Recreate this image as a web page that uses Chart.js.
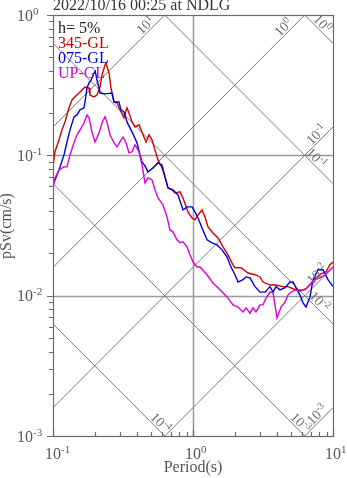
<!DOCTYPE html>
<html>
<head>
<meta charset="utf-8">
<script src="https://cdn.jsdelivr.net/npm/chart.js@4/dist/chart.umd.min.js"></script>
<style>
  body { margin: 0; background: #fff; }
  canvas { display: block; }
</style>
</head>
<body>
<canvas id="spec" width="347" height="478"></canvas>
<script>
// pseudo velocity response spectra, h = 5%
const period345 = [0.1, 0.1033, 0.1104, 0.116, 0.1218, 0.1301, 0.1367, 0.1436, 0.156, 0.1693, 0.1808, 0.1837, 0.1963, 0.2062, 0.2167, 0.2239, 0.2352, 0.2391, 0.2512, 0.2596, 0.2727, 0.2865, 0.301, 0.3215, 0.3377, 0.349, 0.3667, 0.3852, 0.4115, 0.4394, 0.4616, 0.485, 0.5095, 0.5353, 0.5623, 0.6006, 0.631, 0.6628, 0.7079, 0.7434, 0.8075, 0.8483, 0.921, 0.9837, 1.033, 1.086, 1.16, 1.218, 1.28, 1.389, 1.509, 1.638, 1.778, 1.931, 1.995, 2.203, 2.471, 2.773, 3.01, 3.162, 3.548, 3.917, 4.396, 4.771, 5.179, 5.812, 6.415, 6.985, 7.559, 8.209, 8.913, 9.517, 10];
const sv345 = [0.0841, 0.106, 0.129, 0.152, 0.173, 0.218, 0.248, 0.261, 0.283, 0.307, 0.302, 0.269, 0.261, 0.269, 0.307, 0.374, 0.440, 0.455, 0.386, 0.302, 0.240, 0.236, 0.211, 0.185, 0.218, 0.200, 0.173, 0.159, 0.165, 0.140, 0.1245, 0.140, 0.129, 0.109, 0.0928, 0.0813, 0.0702, 0.0586, 0.0568, 0.0540, 0.0549, 0.0497, 0.0395, 0.0358, 0.0347, 0.0376, 0.0408, 0.0364, 0.0309, 0.0280, 0.0258, 0.0223, 0.0195, 0.0166, 0.0158, 0.0158, 0.0145, 0.0141, 0.0136, 0.0125, 0.0119, 0.0119, 0.0116, 0.0116, 0.0112, 0.0108, 0.0112, 0.0123, 0.0134, 0.0143, 0.0148, 0.0166, 0.0174];

const period075 = [0.1, 0.1104, 0.1198, 0.1259, 0.1323, 0.1413, 0.1484, 0.156, 0.1664, 0.1693, 0.1749, 0.1808, 0.1868, 0.1963, 0.1995, 0.2062, 0.2131, 0.2167, 0.2352, 0.2638, 0.2727, 0.2961, 0.306, 0.3215, 0.3377, 0.3667, 0.3981, 0.4182, 0.4322, 0.4541, 0.4771, 0.5179, 0.5623, 0.6006, 0.631, 0.6628, 0.7196, 0.7815, 0.8483, 0.906, 0.9837, 1.033, 1.086, 1.16, 1.259, 1.367, 1.484, 1.612, 1.749, 1.868, 1.995, 2.096, 2.276, 2.391, 2.553, 2.773, 3.01, 3.268, 3.548, 3.728, 3.917, 4.182, 4.541, 4.931, 5.179, 5.441, 5.812, 6.106, 6.415, 6.849, 7.196, 7.815, 8.483, 9.21, 10];
const sv075 = [0.0615, 0.0787, 0.1007, 0.1245, 0.152, 0.188, 0.194, 0.211, 0.218, 0.240, 0.302, 0.328, 0.344, 0.386, 0.406, 0.344, 0.302, 0.278, 0.274, 0.278, 0.240, 0.240, 0.211, 0.204, 0.173, 0.147, 0.123, 0.1007, 0.0898, 0.0841, 0.0762, 0.0813, 0.0883, 0.0854, 0.0702, 0.0586, 0.0568, 0.0522, 0.0408, 0.0429, 0.0429, 0.0395, 0.0358, 0.0304, 0.0250, 0.0238, 0.0230, 0.0212, 0.0189, 0.0160, 0.0141, 0.0125, 0.0130, 0.0136, 0.0134, 0.0116, 0.0106, 0.0106, 0.0116, 0.0106, 0.0116, 0.0110, 0.0114, 0.0125, 0.0125, 0.0114, 0.0101, 0.00889, 0.0083, 0.0098, 0.0130, 0.0153, 0.0153, 0.0130, 0.0116];

const periodUP = [0.1, 0.1033, 0.1104, 0.1198, 0.1259, 0.1323, 0.1413, 0.1484, 0.156, 0.1664, 0.1749, 0.1808, 0.1899, 0.1995, 0.2131, 0.2239, 0.2352, 0.243, 0.2553, 0.2727, 0.2865, 0.301, 0.3162, 0.3323, 0.349, 0.3667, 0.3852, 0.4115, 0.4322, 0.4541, 0.4771, 0.5095, 0.5353, 0.5623, 0.6106, 0.6522, 0.6849, 0.7196, 0.7688, 0.8075, 0.8483, 0.906, 0.9519, 1.0, 1.068, 1.122, 1.259, 1.389, 1.56, 1.749, 1.931, 2.096, 2.276, 2.391, 2.553, 2.683, 2.818, 3.01, 3.162, 3.323, 3.548, 3.728, 3.852, 3.981, 4.182, 4.251, 4.541, 4.771, 5.012, 5.441, 5.812, 6.31, 6.849, 7.436, 8.075, 8.77, 9.21, 10];
const svUP = [0.0577, 0.0691, 0.0787, 0.0827, 0.0827, 0.1007, 0.123, 0.140, 0.152, 0.170, 0.194, 0.185, 0.147, 0.1245, 0.144, 0.170, 0.188, 0.173, 0.140, 0.123, 0.115, 0.1245, 0.135, 0.123, 0.104, 0.106, 0.119, 0.106, 0.0854, 0.0636, 0.0691, 0.0668, 0.0568, 0.0497, 0.0443, 0.0364, 0.0294, 0.0285, 0.0250, 0.0238, 0.0242, 0.0223, 0.0195, 0.0174, 0.0160, 0.0160, 0.0141, 0.0123, 0.0110, 0.0098, 0.0086, 0.0083, 0.00766, 0.00819, 0.0075, 0.00819, 0.00766, 0.0086, 0.0086, 0.0096, 0.0106, 0.0105, 0.0086, 0.00695, 0.0079, 0.0083, 0.0090, 0.0101, 0.0106, 0.0110, 0.0110, 0.0110, 0.0119, 0.0130, 0.0134, 0.0141, 0.0148, 0.0160];

const seriesNames = ['345-GL', '075-GL', 'UP-GL'];
const seriesColors = ['#d40000', '#0000d4', '#d800d8'];

// tripartite guide lines: acceleration (cm/s2) and displacement (cm)
const accLevels = [10, 1, 0.1, 0.01, 0.001];
const dispLevels = [1, 0.1, 0.01, 0.001, 0.0001];
// where each guide label sits, given as a period on its line
const accLabels = [['1', 0.493], ['0', 4.77], ['-1', 8.2], ['-2', 8.3], ['-3', 8.3]];
const dispLabels = [['0', 7.8], ['-1', 7.08], ['-2', 7.44], ['-3', 5.44], ['-4', 0.544]];

const xTicks = [[0.1, '-1'], [1, '0'], [10, '1']];
const yTicks = [[1, '0'], [0.1, '-1'], [0.01, '-2'], [0.001, '-3']];

const TWO_PI = 2 * Math.PI;
const svFromAcc = (a, t) => a * t / TWO_PI;
const svFromDisp = (d, t) => TWO_PI * d / t;

const SERIF = '"Liberation Serif", "Times New Roman", serif';

function pts(xs, ys) {
  return xs.map((x, i) => ({ x: x, y: ys[i] }));
}

const datasets = [];
accLevels.forEach(a => {
  datasets.push({
    data: [{ x: 0.1, y: svFromAcc(a, 0.1) }, { x: 10, y: svFromAcc(a, 10) }],
    borderColor: '#7a7a7a', borderWidth: 1, order: 10
  });
});
dispLevels.forEach(d => {
  datasets.push({
    data: [{ x: 0.1, y: svFromDisp(d, 0.1) }, { x: 10, y: svFromDisp(d, 10) }],
    borderColor: '#7a7a7a', borderWidth: 1, order: 10
  });
});
[[period345, sv345], [period075, sv075], [periodUP, svUP]].forEach((s, i) => {
  datasets.push({
    label: seriesNames[i],
    data: pts(s[0], s[1]),
    borderColor: seriesColors[i],
    borderWidth: 1.4,
    order: 3 - i
  });
});

// "10" with a raised exponent
function powWidth(ctx, exp, size) {
  ctx.font = size + 'px ' + SERIF;
  const wb = ctx.measureText('10').width;
  ctx.font = Math.round(size * 0.68) + 'px ' + SERIF;
  return [wb, ctx.measureText(exp).width];
}
function drawPow(ctx, exp, x, y, size) {
  const w = powWidth(ctx, exp, size);
  ctx.font = size + 'px ' + SERIF;
  ctx.fillText('10', x, y);
  ctx.font = Math.round(size * 0.68) + 'px ' + SERIF;
  ctx.fillText(exp, x + w[0], y - size * 0.36);
  return w;
}

const tripartite = {
  id: 'tripartite',
  beforeDatasetsDraw(chart) {
    const { ctx, chartArea: a, scales: { x, y } } = chart;
    ctx.save();
    ctx.strokeStyle = '#9a9a9a';
    ctx.lineWidth = 1.5;
    ctx.beginPath();
    const gx = Math.round(x.getPixelForValue(1)) + 0.5;
    ctx.moveTo(gx, a.top); ctx.lineTo(gx, a.bottom);
    [0.1, 0.01].forEach(v => {
      const gy = Math.round(y.getPixelForValue(v)) + 0.5;
      ctx.moveTo(a.left, gy); ctx.lineTo(a.right, gy);
    });
    ctx.stroke();
    ctx.restore();
  },
  afterDatasetsDraw(chart) {
    const { ctx, scales: { x, y } } = chart;
    ctx.save();
    ctx.fillStyle = '#6e6e6e';
    ctx.textBaseline = 'alphabetic';
    const put = (exp, t, sv, sv2) => {
      const px = x.getPixelForValue(t), py = y.getPixelForValue(sv);
      const qx = x.getPixelForValue(t * 1.1), qy = y.getPixelForValue(sv2);
      const ang = Math.atan2(qy - py, qx - px);
      ctx.save();
      ctx.translate(px, py);
      ctx.rotate(ang);
      const w = powWidth(ctx, exp, 14);
      drawPow(ctx, exp, -(w[0] + w[1]) / 2, -2, 14);
      ctx.restore();
    };
    accLabels.forEach((l, i) => {
      const a = accLevels[i];
      put(l[0], l[1], svFromAcc(a, l[1]), svFromAcc(a, l[1] * 1.1));
    });
    dispLabels.forEach((l, i) => {
      const d = dispLevels[i];
      put(l[0], l[1], svFromDisp(d, l[1]), svFromDisp(d, l[1] * 1.1));
    });
    ctx.restore();
  },
  afterDraw(chart) {
    const { ctx, chartArea: a, scales: { x, y } } = chart;
    ctx.save();
    // frame
    ctx.strokeStyle = '#6a6a6a';
    ctx.lineWidth = 1.2;
    ctx.strokeRect(a.left + 0.5, a.top + 0.5, a.right - a.left, a.bottom - a.top);

    // minor and major ticks
    ctx.beginPath();
    for (let e = -3; e <= 0; e++) {
      for (let m = 1; m <= 9; m++) {
        const v = m * Math.pow(10, e);
        if (v > 1.0001) continue;
        const py = Math.round(y.getPixelForValue(v)) + 0.5;
        ctx.moveTo(a.left, py); ctx.lineTo(a.left - (m === 1 ? 6 : 4), py);
      }
    }
    for (let e = -1; e <= 1; e++) {
      for (let m = 1; m <= 9; m++) {
        const v = m * Math.pow(10, e);
        if (v > 10.0001) continue;
        const px = Math.round(x.getPixelForValue(v)) + 0.5;
        ctx.moveTo(px, a.bottom); ctx.lineTo(px, a.bottom - (m === 1 ? 6 : 4));
      }
    }
    ctx.stroke();

    // tick labels
    ctx.fillStyle = '#555';
    ctx.textAlign = 'left';
    yTicks.forEach(t => {
      drawPow(ctx, t[1], 17, y.getPixelForValue(t[0]) + 5.5, 16);
    });
    xTicks.forEach(t => {
      const w = powWidth(ctx, t[1], 16);
      drawPow(ctx, t[1], x.getPixelForValue(t[0]) - w[0] / 2, 459, 16);
    });

    // axis titles
    ctx.font = '16px ' + SERIF;
    ctx.textAlign = 'center';
    ctx.fillText('Period(s)', (a.left + a.right) / 2, 472);
    ctx.save();
    ctx.translate(11, 226);
    ctx.rotate(-Math.PI / 2);
    ctx.fillText('pSv(cm/s)', 0, 0);
    ctx.restore();

    // title
    ctx.fillStyle = '#333';
    ctx.textAlign = 'left';
    ctx.fillText('2022/10/16 00:25 at NDLG', a.left, 10);

    // legend block
    ctx.fillStyle = '#222';
    ctx.fillText('h= 5%', a.left + 5, 33);
    seriesNames.forEach((n, i) => {
      ctx.fillStyle = seriesColors[i];
      ctx.fillText(n, a.left + 5, 48 + i * 15);
    });
    ctx.restore();
  }
};

new Chart(document.getElementById('spec'), {
  type: 'line',
  data: { datasets: datasets },
  options: {
    responsive: false,
    animation: false,
    devicePixelRatio: 1,
    layout: { padding: { left: 53, right: 14, top: 15, bottom: 42 } },
    elements: { point: { radius: 0 }, line: { tension: 0 } },
    plugins: { legend: { display: false }, tooltip: { enabled: false } },
    scales: {
      x: { type: 'logarithmic', min: 0.1, max: 10, display: false },
      y: { type: 'logarithmic', min: 0.001, max: 1, display: false }
    }
  },
  plugins: [tripartite]
});
</script>
</body>
</html>
